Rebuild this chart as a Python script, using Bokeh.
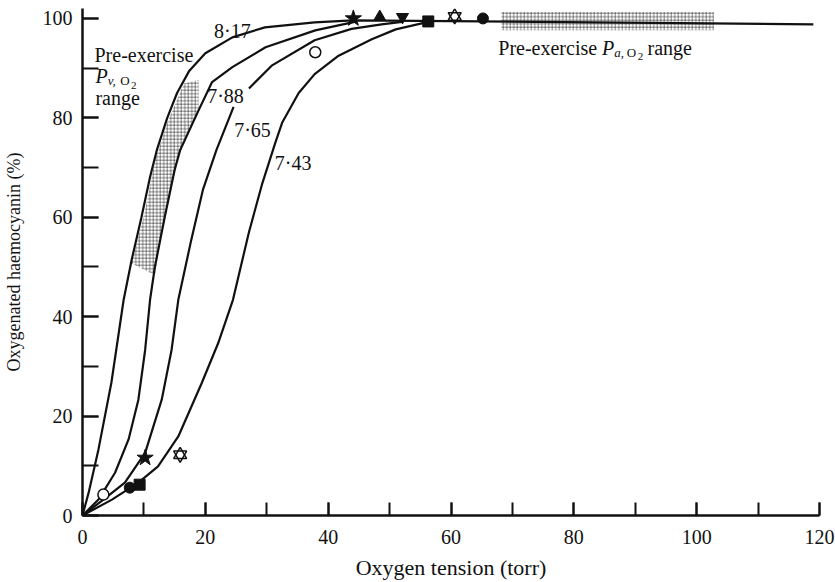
from bokeh.plotting import figure
from bokeh.models import Range1d, SingleIntervalTicker
from bokeh.core.properties import value
from bokeh.embed import file_html
from bokeh.resources import INLINE

NAN = float("nan")

# ---- data ----
ph_labels = ["8·17", "7·88", "7·65", "7·43"]

curve_817_x = [0, 1.0, 2.6, 4.7, 6.7, 8.0, 9.6, 11.0, 12.1, 13.8, 15.4, 17.4, 20.0, 24.4, 29.7, 37.8, 44.0, 65.0, 119.0]
curve_817_y = [0, 4.6, 13.3, 26.7, 43.4, 51.4, 60.0, 68.1, 73.5, 80.0, 85.0, 89.5, 93.0, 96.2, 98.2, 99.2, 99.6, 99.4, 98.8]

curve_788_x = [0, 2.6, 5.3, 7.5, 9.1, 10.2, 11.0, 11.8, 13.4, 15.0, 15.9, 18.9, 21.1, 24.4, 29.8, 37.9, 44.3]
curve_788_y = [0, 3.2, 8.6, 15.3, 23.3, 33.3, 43.4, 50.1, 60.1, 69.5, 73.5, 81.5, 87.2, 90.2, 94.2, 97.6, 99.3]

curve_765_x = [0, 3.4, 6.9, 10.2, 12.9, 14.5, 15.6, 17.7, 19.6, 21.8, 24.6, NAN, 27.1, 30.8, 37.8, 43.8, 48.7, 52.0]
curve_765_y = [0, 3.2, 6.6, 12.6, 23.3, 33.3, 43.4, 55.4, 65.5, 73.5, 82.2, NAN, 85.9, 90.5, 95.6, 97.9, 98.8, 99.3]

curve_743_x = [0, 4.8, 9.1, 12.3, 15.6, 19.4, 22.1, 24.5, 27.1, 29.2, 31.4, 32.5, 35.2, 37.8, 41.7, 47.1, 51.0, 56.3]
curve_743_y = [0, 3.2, 6.6, 9.9, 15.9, 26.6, 34.7, 43.4, 57.0, 66.5, 75.0, 79.0, 85.0, 88.8, 92.5, 95.8, 97.8, 99.3]

# pre-exercise venous PO2 range (band between curves)
pv_band_x = [8.0, 10.2, 11.8, 13.8, 16.5, 18.9, 18.9, 15.6, 13.1, 11.8]
pv_band_y = [50.7, 61.4, 71.5, 79.0, 86.9, 87.6, 81.5, 72.1, 58.1, 48.4]

# pre-exercise arterial PO2 range
pa_range_x = [68.2, 102.8]
pa_range_y = [97.6, 101.3]

# measured points, one list per symbol
star_filled_x, star_filled_y = [44.1, 10.2], [100.0, 11.6]
tri_x, tri_y = [48.4], [100.3]
invtri_x, invtri_y = [52.1], [100.3]
square_x, square_y = [56.3, 9.3], [99.4, 6.2]
star_open_x, star_open_y = [60.6, 15.9], [100.4, 12.2]
circ_filled_x, circ_filled_y = [65.2, 7.7], [100.0, 5.6]
circ_open_x, circ_open_y = [37.9, 3.4], [93.2, 4.2]

x_ticks_major = 20
y_ticks_major = 20

FONT = value("Liberation Serif")
INK = "#111111"

p = figure(width=835, height=582, output_backend="svg", toolbar_location=None,
           x_range=Range1d(0, 120), y_range=Range1d(0, 102),
           min_border_left=80, min_border_right=16, min_border_top=8, min_border_bottom=66)
p.outline_line_color = None
p.grid.visible = False
p.background_fill_color = "white"

for ax, tick_len in ((p.xaxis[0], 13), (p.yaxis[0], 16)):
    ax.axis_line_width = 2.5
    ax.axis_line_color = INK
    ax.major_tick_in = tick_len
    ax.major_tick_out = 0
    ax.minor_tick_in = tick_len
    ax.minor_tick_out = 0
    ax.major_tick_line_width = 2
    ax.minor_tick_line_width = 2
    ax.major_tick_line_color = INK
    ax.minor_tick_line_color = INK
    ax.major_label_text_font = "Liberation Serif"
    ax.major_label_text_font_size = "20px"
    ax.major_label_text_color = INK
    ax.axis_label_text_font = "Liberation Serif"
    ax.axis_label_text_font_style = "normal"
    ax.axis_label_text_color = INK

p.xaxis[0].ticker = SingleIntervalTicker(interval=x_ticks_major, num_minor_ticks=2)
p.yaxis[0].ticker = SingleIntervalTicker(interval=y_ticks_major, num_minor_ticks=2)
p.xaxis[0].axis_label = "Oxygen tension (torr)"
p.yaxis[0].axis_label = "Oxygenated haemocyanin (%)"
p.xaxis[0].axis_label_text_font_size = "22px"
p.yaxis[0].axis_label_text_font_size = "18px"
p.xaxis[0].major_label_standoff = 14
p.yaxis[0].major_label_standoff = 10
p.xaxis[0].axis_label_standoff = 8
p.yaxis[0].axis_label_standoff = 16

# shaded ranges
p.patch(pv_band_x, pv_band_y, fill_alpha=0, line_color=None,
        hatch_pattern="+", hatch_scale=3.5, hatch_weight=0.8, hatch_color="black", hatch_alpha=0.6)
p.quad(left=[pa_range_x[0]], right=[pa_range_x[1]], bottom=[pa_range_y[0]], top=[pa_range_y[1]],
       fill_alpha=0, line_color=None,
       hatch_pattern="+", hatch_scale=3.5, hatch_weight=0.8, hatch_color="black", hatch_alpha=0.6)

# curves
for cx, cy in ((curve_817_x, curve_817_y), (curve_788_x, curve_788_y),
               (curve_765_x, curve_765_y), (curve_743_x, curve_743_y)):
    p.line(cx, cy, line_color=INK, line_width=2.2)

# markers
p.scatter(star_filled_x, star_filled_y, marker="star", size=17, fill_color=INK, line_color=INK)
p.scatter(tri_x, tri_y, marker="triangle", size=12, fill_color=INK, line_color=INK)
p.scatter(invtri_x, invtri_y, marker="inverted_triangle", size=12, fill_color=INK, line_color=INK)
p.scatter(square_x, square_y, marker="square", size=11, fill_color=INK, line_color=INK)
# open six-pointed star: two overlapping open triangles
p.scatter(star_open_x, star_open_y, marker="triangle", size=13, fill_alpha=0, line_color=INK, line_width=1.5)
p.scatter(star_open_x, star_open_y, marker="inverted_triangle", size=13, fill_alpha=0, line_color=INK, line_width=1.5)
p.scatter(circ_filled_x, circ_filled_y, marker="circle", size=11, fill_color=INK, line_color=INK)
p.scatter(circ_open_x, circ_open_y, marker="circle", size=11, fill_color="white", line_color=INK, line_width=1.5)

def txt(x, y, s, size="20px", style="normal", align="left"):
    p.text([x], [y], text=[s], text_font=FONT, text_font_size=value(size),
           text_font_style=style, text_align=align, text_baseline="middle", text_color=INK)

# curve labels
txt(24.4, 97.4, ph_labels[0], align="center")
txt(20.3, 84.3, ph_labels[1])
txt(24.7, 77.5, ph_labels[2])
txt(31.3, 70.9, ph_labels[3])

# venous range label
txt(1.95, 92.6, "Pre-exercise")
txt(2.1, 88.4, "P", style="italic")
txt(4.1, 87.5, "v,", size="13px", style="italic")
txt(6.15, 87.5, "O", size="13px")
txt(7.9, 86.6, "2", size="11px")
txt(2.1, 83.9, "range")

# arterial range label
txt(67.7, 94.0, "Pre-exercise")
txt(84.6, 94.0, "P", style="italic")
txt(86.6, 93.2, "a,", size="13px", style="italic")
txt(88.6, 93.2, "O", size="13px")
txt(90.4, 92.4, "2", size="11px")
txt(92.0, 94.0, "range")

open("out.html", "w").write(file_html(p, INLINE))
